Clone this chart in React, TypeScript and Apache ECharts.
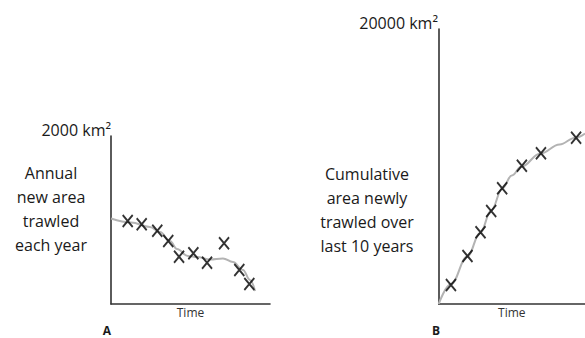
import React, { useEffect, useRef } from "react";
import * as echarts from "echarts";

// Panel A: annual new area trawled (km², max 2000)
const leftCurveX = [0, 12.6, 24.5, 30.8, 37.1, 41.5, 48.4, 54.1, 62.3, 70.4, 76.7, 83, 87.4, 90.6];
const leftCurveY = [1018, 970, 917, 857, 750, 655, 571, 559, 530, 542, 500, 405, 286, 155];
const leftCrossX = [10.5, 19.3, 29.1, 36.0, 42.8, 51.8, 60.4, 71.1, 80.7, 87.0];
const leftCrossY = [988, 949, 873, 750, 563, 604, 492, 723, 405, 238];

// Panel B: cumulative area newly trawled (km², max 20000)
const rightCurveX = [0, 7.7, 18, 26, 33, 40, 46, 52, 64, 76, 86, 92];
const rightCurveY = [0, 1450, 3450, 5150, 6800, 8400, 9350, 10000, 10950, 11600, 12100, 12400];
const rightCrossX = [7.7, 18.1, 26.3, 33.0, 39.9, 52.3, 64.3, 86.4];
const rightCrossY = [1382, 3491, 5215, 6764, 8415, 10058, 10960, 12095];

const leftMax = 2000;
const rightMax = 20000;
const leftTitle = "2000 km²";
const rightTitle = "20000 km²";
const leftLabel = ["Annual", "new area", "trawled", "each year"];
const rightLabel = ["Cumulative", "area newly", "trawled over", "last 10 years"];
const xName = "Time";

const zip = (xs: number[], ys: number[]) => xs.map((x, i) => [x, ys[i]]);

const FONT = "'Open Sans', 'Liberation Sans', sans-serif";
const CROSS = "path://M0 0L10 12M10 0L0 12";

export default function App() {
  const ref = useRef<HTMLDivElement>(null);
  useEffect(() => {
    if (!ref.current) return;
    const chart = echarts.init(ref.current, null, { renderer: "svg" });
    const axisLine = { show: true, onZero: false, lineStyle: { color: "#333", width: 1.6 } };
    const hidden = {
      axisTick: { show: false },
      axisLabel: { show: false },
      splitLine: { show: false },
    };
    const xAxisCommon = (gridIndex: number, max: number) => ({
      type: "value",
      gridIndex,
      min: 0,
      max,
      axisLine,
      ...hidden,
      name: xName,
      nameLocation: "middle",
      nameGap: 2,
      nameTextStyle: { fontFamily: FONT, fontSize: 12, color: "#333", verticalAlign: "top" },
    });
    const text = (x: number, y: number, t: string, size: number, extra: any = {}) => ({
      type: "text",
      x,
      y,
      style: {
        text: t,
        fontFamily: FONT,
        fontSize: size,
        fill: "#1a1a1a",
        align: "center",
        textAlign: "center",
        verticalAlign: "middle",
        textVerticalAlign: "middle",
        ...extra,
      },
    });
    const cross = {
      type: "scatter",
      symbol: CROSS,
      symbolSize: [10, 12],
      itemStyle: { color: "transparent", borderColor: "#000", borderWidth: 2 },
      z: 5,
    };
    const curve = {
      type: "line",
      smooth: 0.4,
      smoothMonotone: "x",
      showSymbol: false,
      symbol: "none",
      lineStyle: { color: "#b3b3b3", width: 2 },
    };
    chart.setOption({
      animation: false,
      grid: [
        { left: 111, top: 136, width: 159, height: 168 },
        { left: 438.7, top: 29, width: 146.3, height: 275 },
      ],
      xAxis: [xAxisCommon(0, 100), xAxisCommon(1, 92)],
      yAxis: [
        { type: "value", gridIndex: 0, min: 0, max: leftMax, axisLine, ...hidden },
        { type: "value", gridIndex: 1, min: 0, max: rightMax, axisLine, ...hidden },
      ],
      series: [
        { ...curve, xAxisIndex: 0, yAxisIndex: 0, data: zip(leftCurveX, leftCurveY) },
        { ...cross, xAxisIndex: 0, yAxisIndex: 0, data: zip(leftCrossX, leftCrossY) },
        { ...curve, xAxisIndex: 1, yAxisIndex: 1, data: zip(rightCurveX, rightCurveY) },
        { ...cross, xAxisIndex: 1, yAxisIndex: 1, data: zip(rightCrossX, rightCrossY) },
      ],
      graphic: [
        text(111, 130, leftTitle, 16, { align: "right", textAlign: "right" }),
        text(438, 23, rightTitle, 16, { align: "right", textAlign: "right" }),
        text(51, 208.5, leftLabel.join("\n"), 16, { lineHeight: 24 }),
        text(367, 210, rightLabel.join("\n"), 16, { lineHeight: 24 }),
        text(107, 330, "A", 12, { fontWeight: "bold" }),
        text(436, 330, "B", 12, { fontWeight: "bold" }),
      ],
    });
    return () => chart.dispose();
  }, []);
  return (
    <div
      ref={ref}
      style={{ position: "fixed", left: 0, top: 0, width: 585, height: 338, background: "#fff" }}
    />
  );
}
